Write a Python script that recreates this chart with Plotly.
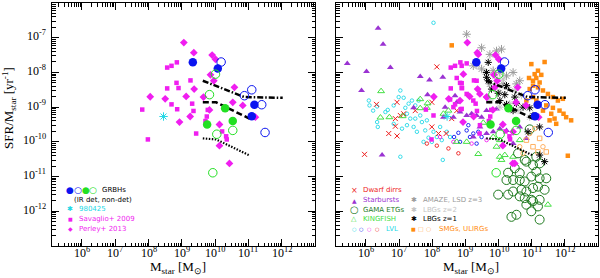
import plotly.graph_objects as go

# ---------------- data (log10 of M_star [Msun], log10 of SFR/M_star [yr^-1]) -------------
# GRB hosts (both panels)
grb_ir_x = [9.33, 10.08, 11.18, 11.10]
grb_ir_y = [-7.71, -7.89, -8.93, -9.26]
grb_irnd_x = [10.18, 10.88, 11.10, 11.40, 11.50]
grb_irnd_y = [-7.70, -8.67, -8.50, -8.93, -9.73]
grb_g_x = [9.76, 10.30, 10.53]
grb_g_y = [-9.50, -9.03, -9.40]
grb_gnd_x = [9.83, 10.01, 10.05, 10.53, 9.93]
grb_gnd_y = [-8.64, -8.05, -9.78, -9.67, -10.89]
sn_x = [8.45]
sn_y = [-9.27]
sav_x = [7.81, 7.98, 8.56, 8.69, 8.85, 8.56, 8.84, 8.90, 8.69, 8.86, 9.26, 9.31, 9.35,
         9.43, 9.78, 9.75, 9.71, 10.21, 10.33, 10.35]
sav_y = [-9.07, -9.93, -7.86, -7.81, -7.71, -8.46, -8.30, -8.45, -8.92, -9.06, -8.23, -8.90,
         -9.11, -9.76, -9.08, -9.27, -9.40, -9.70, -9.84, -9.93]
per_x = [9.06, 9.36, 9.91, 10.01, 9.86, 8.05, 8.50, 9.13, 9.37, 9.65, 9.96, 10.58, 10.53,
         10.83, 8.93, 9.25, 9.83, 10.13, 10.13, 10.43, 11.21]
per_y = [-7.14, -7.43, -7.50, -7.62, -8.07, -8.70, -8.76, -8.69, -8.48, -8.71, -8.24, -8.43,
         -8.86, -8.95, -9.43, -9.27, -9.08, -9.50, -10.11, -10.62, -9.29]

# relations (black lines)
rel1_x = [9.63, 10.88, 12.03]
rel1_y = [-8.24, -8.71, -8.73]
rel2_x = [9.63, 10.03, 11.03]
rel2_y = [-8.86, -8.86, -9.33]
rel3_x = [9.63, 10.03, 11.01]
rel3_y = [-9.90, -9.93, -10.38]

# comparison samples (right panel)
dwarf_x = [8.14, 6.32, 6.94, 7.99, 7.04, 7.14, 6.89, 6.89, 6.69, 6.94, 5.96, 7.49, 7.99,
           8.19, 8.42, 8.59, 8.74]
dwarf_y = [-7.84, -8.92, -8.86, -8.86, -9.24, -9.19, -9.33, -9.55, -9.76, -9.83, -10.36,
           -9.10, -9.57, -9.76, -9.76, -9.33, -9.10]
sb_x = [6.37, 6.52, 5.44, 6.02, 6.74, 5.87, 7.64, 7.92, 8.32, 7.86, 6.49, 7.44, 8.39, 8.74,
        9.04, 9.19, 9.34, 9.49, 9.64, 9.44, 9.24, 9.64, 9.84, 10.04, 8.34, 8.64, 8.84, 10.24,
        10.44, 10.64, 8.69, 9.94, 10.84]
sb_y = [-6.73, -7.19, -7.74, -7.97, -7.86, -8.52, -8.12, -8.22, -8.14, -8.64, -10.38, -9.02,
        -9.00, -8.86, -9.24, -9.19, -9.24, -9.29, -9.10, -9.57, -9.86, -9.76, -9.71, -9.62,
        -9.29, -9.29, -9.14, -9.67, -10.05, -9.57, -8.67, -9.05, -9.90]
gama_x = [10.29, 10.44, 10.64, 10.79, 10.99, 11.24, 11.44, 11.14, 11.24, 11.14, 10.24, 10.29,
          10.44, 10.69, 10.84, 11.04, 11.19, 11.39, 10.64, 10.79, 10.99, 11.24, 10.84, 11.04,
          10.39, 10.54, 10.99, 11.24, 11.19, 9.99, 10.84, 10.64, 10.94, 11.04, 10.79, 10.59,
          10.49]
gama_y = [-10.89, -11.10, -11.10, -11.14, -11.00, -11.05, -11.05, -10.86, -10.62, -10.43,
          -11.10, -11.52, -11.43, -11.38, -11.43, -11.33, -11.29, -11.38, -11.57, -11.62,
          -11.67, -11.67, -11.81, -11.71, -12.16, -12.10, -12.00, -12.24, -11.86, -11.52,
          -10.57, -10.90, -9.64, -10.67, -10.52, -10.33, -10.76]
kf_x = [6.46, 6.44, 6.71, 7.11, 7.64, 7.86, 7.64, 7.84, 8.34, 8.49, 8.74, 9.04, 9.39, 9.84,
        9.94, 10.04, 10.09, 10.19, 10.44, 11.49, 10.04, 10.64, 9.54]
kf_y = [-8.54, -9.30, -9.29, -9.26, -8.77, -8.89, -9.03, -9.02, -9.19, -9.10, -10.00, -10.00,
        -10.35, -9.86, -10.14, -10.43, -10.52, -10.38, -10.43, -11.81, -9.95, -9.95, -9.45]
lvl_c_x = [6.09, 6.11, 6.22, 6.34, 6.34, 6.36, 6.66, 7.04, 6.99, 7.14, 7.29, 7.39, 7.49, 7.59,
           7.19, 7.24, 7.34, 7.49, 7.64, 7.74, 7.89, 7.99, 8.14, 8.29, 8.32, 7.04, 8.04, 6.59,
           6.84, 7.09, 7.24, 7.44, 7.54, 7.69, 7.84, 7.79, 8.04, 8.24, 8.44, 8.54, 6.84]
lvl_c_y = [-8.81, -8.95, -9.10, -8.98, -9.43, -9.57, -9.08, -8.52, -8.71, -8.73, -8.90, -8.81,
           -8.95, -8.81, -9.02, -9.19, -9.33, -9.33, -9.24, -10.00, -9.88, -10.00, -9.86,
           -9.95, -10.52, -10.43, -6.57, -9.14, -9.48, -9.62, -9.52, -9.57, -9.71, -9.43,
           -9.38, -9.67, -9.71, -9.57, -9.71, -9.86, -8.95]
lvl_b_x = [8.66, 8.79, 8.84, 9.04, 9.14, 9.24, 9.39, 9.49, 9.34, 9.09]
lvl_b_y = [-9.86, -9.74, -10.00, -9.67, -9.86, -9.76, -9.71, -9.86, -10.05, -9.52]
lvl_m_x = [8.24, 8.64, 9.64, 9.19]
lvl_m_y = [-9.86, -10.00, -9.95, -10.05]
lvl_r_x = [8.14, 8.79, 8.49, 7.84]
lvl_r_y = [-10.11, -10.33, -10.19, -10.05]
amaze_x = [9.04, 9.49, 9.74, 9.94, 10.09, 9.24, 9.49, 9.84, 10.04, 10.24, 10.44, 10.54, 10.64,
           9.74, 10.14]
amaze_y = [-6.90, -7.29, -7.48, -7.38, -7.33, -7.81, -7.90, -7.95, -8.00, -8.10, -8.00, -8.33,
           -8.24, -8.33, -8.33]
lbg2_x = [9.34, 9.59, 9.89, 10.14, 10.29, 10.49, 10.69, 10.04, 10.34, 10.59, 10.94, 10.04, 9.74]
lbg2_y = [-7.81, -8.00, -8.10, -8.19, -8.43, -8.52, -8.67, -8.57, -8.90, -9.10, -9.29, -9.00,
          -8.81]
lbg1_x = [9.69, 9.64, 9.69, 9.79, 9.99, 10.19, 10.04, 10.24, 10.49, 10.54, 10.74, 10.94, 11.04,
          11.24, 11.24, 11.39, 10.24, 10.44, 10.89, 9.64]
lbg1_y = [-7.71, -8.14, -8.24, -8.48, -8.60, -8.64, -8.81, -8.92, -8.71, -8.90, -9.00, -9.02,
          -9.24, -9.57, -10.38, -10.57, -8.38, -9.10, -9.71, -8.00]
smg_x = [8.59, 10.99, 11.19, 11.39, 10.92, 11.04, 11.14, 11.24, 11.19, 11.04, 10.94, 11.34,
         11.49, 11.64, 11.79, 11.94, 11.44, 11.64, 11.84, 11.96, 12.04, 12.19, 11.59, 11.69,
         11.74, 11.54, 11.34, 11.14, 11.04, 12.09, 10.84, 11.29, 11.09]
smg_y = [-7.22, -7.76, -7.95, -7.70, -8.16, -8.24, -8.16, -8.29, -8.43, -8.38, -8.48, -8.52,
         -8.62, -8.71, -8.81, -8.76, -8.95, -9.02, -9.10, -9.19, -9.29, -9.38, -9.19, -9.33,
         -9.48, -9.38, -9.10, -8.81, -8.71, -10.40, -8.81, -8.07, -8.05]
smgo_x = [10.84, 11.04, 11.19, 11.44, 11.24]
smgo_y = [-9.95, -10.14, -10.29, -10.29, -9.90]
ulirg_x = [10.94, 10.64, 11.09, 11.34, 10.74]
ulirg_y = [-9.76, -10.14, -9.62, -10.14, -10.33]
mag_sq_x = [8.74, 8.89, 8.89, 8.89, 9.04, 8.54, 8.89, 9.24, 9.34, 9.04, 8.64, 9.44, 8.04]
mag_sq_y = [-8.16, -8.31, -8.45, -7.81, -7.74, -8.78, -9.05, -8.81, -8.24, -8.62, -9.00, -9.52,
            -9.24]
mag_di_x = [9.39, 8.94, 9.44, 9.64, 9.89, 10.44, 10.49, 8.84]
mag_di_y = [-7.48, -8.05, -8.62, -8.71, -8.43, -9.71, -10.62, -8.81]

x_major = [5, 6, 7, 8, 9, 10, 11, 12, 13]
y_major = [-13, -12, -11, -10, -9, -8, -7, -6]
x_labels = [6, 7, 8, 9, 10, 11, 12]
y_labels = [-12, -11, -10, -9, -8, -7]

# ---------------- colours ----------------
BLUE = "#0a14f0"
GREEN = "#22e022"
MAG = "#f01ef0"
CYAN = "#22d8e6"
RED = "#ee1c1c"
PURPLE = "#9a32d2"
DKGREEN = "#1e7a1e"
LTGREEN = "#44e044"
GRAY = "#9a9a9a"
LTGRAY = "#c4c4c4"
ORANGE = "#ff8c10"
LTORANGE = "#ffb060"


def lin(a):
    return [10 ** v for v in a]


fig = go.Figure()


def sc(x, y, panel, symbol, size, color, lw=1.0, filled=True):
    xa, ya = ("x", "y") if panel == 1 else ("x2", "y2")
    if filled:
        m = dict(symbol=symbol, size=size, color=color, line=dict(width=0))
    else:
        m = dict(symbol=symbol, size=size, color=color, line=dict(width=lw, color=color))
    fig.add_trace(go.Scatter(x=lin(x), y=lin(y), mode="markers", marker=m,
                             xaxis=xa, yaxis=ya, showlegend=False, hoverinfo="skip"))


def rel(panel):
    xa, ya = ("x", "y") if panel == 1 else ("x2", "y2")
    for xs, ys, dash, w in [(rel1_x, rel1_y, "6px,2px,1.5px,2px", 2.5),
                            (rel2_x, rel2_y, "6px,3px", 2.5),
                            (rel3_x, rel3_y, "1.5px,1.5px", 2.2)]:
        fig.add_trace(go.Scatter(x=lin(xs), y=lin(ys), mode="lines",
                                 line=dict(color="black", width=w, dash=dash),
                                 xaxis=xa, yaxis=ya, showlegend=False, hoverinfo="skip"))


def grb(panel):
    sc(sav_x, sav_y, panel, "square", 4.5, MAG)
    sc(per_x, per_y, panel, "diamond", 6, MAG)
    sc(grb_ir_x, grb_ir_y, panel, "circle", 8.5, BLUE)
    sc(grb_irnd_x, grb_irnd_y, panel, "circle-open", 8.5, BLUE, 1.0, False)
    sc(grb_g_x, grb_g_y, panel, "circle", 8.5, GREEN)
    sc(grb_gnd_x, grb_gnd_y, panel, "circle-open", 8.5, GREEN, 1.0, False)


# left panel
rel(1)
sc(sn_x, sn_y, 1, "asterisk-open", 7, CYAN, 1.0, False)
grb(1)

# right panel
sc(lvl_c_x, lvl_c_y, 2, "circle-open", 3.5, CYAN, 0.9, False)
sc(lvl_b_x, lvl_b_y, 2, "circle-open", 3.5, BLUE, 0.9, False)
sc(lvl_m_x, lvl_m_y, 2, "circle-open", 3.5, MAG, 0.9, False)
sc(lvl_r_x, lvl_r_y, 2, "circle-open", 3.5, RED, 0.9, False)
sc(dwarf_x, dwarf_y, 2, "x-thin-open", 5, RED, 1.0, False)
sc(kf_x, kf_y, 2, "triangle-up-open", 6, LTGREEN, 1.0, False)
sc(sb_x, sb_y, 2, "triangle-up", 6, PURPLE)
sc(gama_x, gama_y, 2, "circle-open", 9, DKGREEN, 1.0, False)
sc(smgo_x, smgo_y, 2, "square-open", 4.5, LTORANGE, 1.0, False)
sc(ulirg_x, ulirg_y, 2, "circle-open", 4.5, LTORANGE, 1.0, False)
sc(smg_x, smg_y, 2, "square", 4.5, ORANGE)
sc(amaze_x, amaze_y, 2, "asterisk-open", 7, GRAY, 1.0, False)
sc(lbg2_x, lbg2_y, 2, "asterisk-open", 6, LTGRAY, 1.0, False)
sc(lbg1_x, lbg1_y, 2, "asterisk-open", 6, "black", 1.0, False)
sc(sn_x, sn_y, 2, "asterisk-open", 7, CYAN, 1.0, False)
sc(mag_sq_x, mag_sq_y, 2, "square", 4.5, MAG)
sc(mag_di_x, mag_di_y, 2, "diamond", 6, MAG)
rel(2)
grb(2)

# ---------------- axes ----------------
minor_x = [m * 10 ** k for k in range(5, 13) for m in range(2, 10)]
minor_y = [m * 10.0 ** k for k in range(-13, -6) for m in range(2, 10)]


def common(vals, minor):
    return dict(type="log", showgrid=False, zeroline=False,
                showline=True, linecolor="black", linewidth=1, mirror="allticks",
                ticks="inside", ticklen=7, tickwidth=1, tickcolor="black",
                tickmode="array", tickvals=lin(vals), showticklabels=False, automargin=False,
                minor=dict(tickvals=minor, ticks="inside", ticklen=3.5, tickwidth=1,
                           tickcolor="black", showgrid=False))


ydom = [1 - 246 / 278, 1 - 3 / 278]
fig.update_layout(
    width=600, height=278, margin=dict(l=0, r=0, t=0, b=0),
    paper_bgcolor="white", plot_bgcolor="white",
    xaxis=dict(common(x_major, minor_x), domain=[52 / 600, 315 / 600], range=[5.1, 13.0], anchor="y"),
    yaxis=dict(common(y_major, minor_y), domain=ydom, range=[-13, -6], anchor="x"),
    xaxis2=dict(common(x_major, minor_x), domain=[336 / 600, 598 / 600], range=[5.1, 13.0], anchor="y2"),
    yaxis2=dict(common(y_major, minor_y), domain=ydom, range=[-13, -6], anchor="x2"),
)

# ---------------- titles, tick labels & legends (annotations) ----------------
ann = []
TF = "Liberation Serif"


def txt(px, py, s, color="black", size=7, family="DejaVu Sans", xanchor="left", angle=0,
        yanchor="middle"):
    ann.append(dict(x=px / 600, y=1 - py / 278, xref="paper", yref="paper", text=s,
                    showarrow=False, xanchor=xanchor, yanchor=yanchor, textangle=angle,
                    font=dict(family=family, size=size, color=color)))


# tick labels placed through the axes' own scales
for xr in ("x", "x2"):
    for v in x_labels:
        ann.append(dict(x=v, xref=xr, y=1 - 254 / 278, yref="paper",
                        text="10<sup>%d</sup>" % v, showarrow=False, xanchor="center",
                        yanchor="middle", yshift=2, borderpad=0,
                        font=dict(family=TF, size=12, color="black")))
for v in y_labels:
    ann.append(dict(x=47 / 600, xref="paper", y=v, yref="y",
                    text="10<sup>%d</sup>" % v, showarrow=False, xanchor="right",
                    yanchor="middle", yshift=2, borderpad=0,
                    font=dict(family=TF, size=12, color="black")))

txt(9, 108, "SFR/M<sub>star</sub> [yr<sup>-1</sup>]", size=13, family=TF, xanchor="center", angle=-90)
txt(178, 278, "M<sub>star</sub> [M<sub>⊙</sub>]", size=13, family=TF, xanchor="center", yanchor="bottom")
txt(471, 278, "M<sub>star</sub> [M<sub>⊙</sub>]", size=13, family=TF, xanchor="center", yanchor="bottom")

# left legend
txt(70, 190, "●", BLUE, 9, xanchor="center")
txt(77.7, 190, "○", BLUE, 9, xanchor="center")
txt(85.7, 190, "●", GREEN, 9, xanchor="center")
txt(93.3, 190, "○", GREEN, 9, xanchor="center")
txt(100, 190, "GRBHs")
txt(72, 200, "(IR det, non-det)")
txt(70, 209.3, "✱", CYAN, 7, xanchor="center")
txt(76.5, 209.3, "980425", CYAN)
txt(70, 219, "■", MAG, 5, xanchor="center")
txt(76.5, 219, "Savaglio+ 2009", MAG)
txt(70, 228.5, "◆", MAG, 6, xanchor="center")
txt(76.5, 228.5, "Perley+ 2013", MAG)

# right legend, column 1
txt(354, 190, "×", RED, 8, xanchor="center")
txt(360.5, 190, "Dwarf dirrs", RED)
txt(354, 200, "▲", PURPLE, 6, xanchor="center")
txt(360.5, 200, "Starbursts", PURPLE)
txt(354, 209.5, "○", DKGREEN, 10, xanchor="center")
txt(360.5, 209.5, "GAMA ETGs", DKGREEN)
txt(354, 219.3, "△", LTGREEN, 7, xanchor="center")
txt(360.5, 219.3, "KINGFISH", LTGREEN)
for px, c in [(354, CYAN), (361.7, BLUE), (369.3, MAG), (377, RED)]:
    txt(px, 228.7, "○", c, 5, xanchor="center")
txt(383.5, 228.7, "LVL", CYAN)
# column 2
txt(414, 200, "✱", GRAY, 7, xanchor="center")
txt(420.5, 200, "AMAZE, LSD z=3", GRAY)
txt(414, 209.5, "✱", LTGRAY, 7, xanchor="center")
txt(420.5, 209.5, "LBGs z=2", LTGRAY)
txt(414, 219.3, "✱", "black", 7, xanchor="center")
txt(420.5, 219.3, "LBGs z=1", "black")
txt(413, 228.7, "■", ORANGE, 5, xanchor="center")
txt(420.5, 228.7, "□", LTORANGE, 6, xanchor="center")
txt(428, 228.7, "○", LTORANGE, 6, xanchor="center")
txt(437, 228.7, "SMGs, ULIRGs", ORANGE)

fig.update_layout(annotations=ann)
fig.write_html("out.html", config={"displayModeBar": False},
               post_script="document.body.style.margin='0';document.body.style.overflow='hidden';")
